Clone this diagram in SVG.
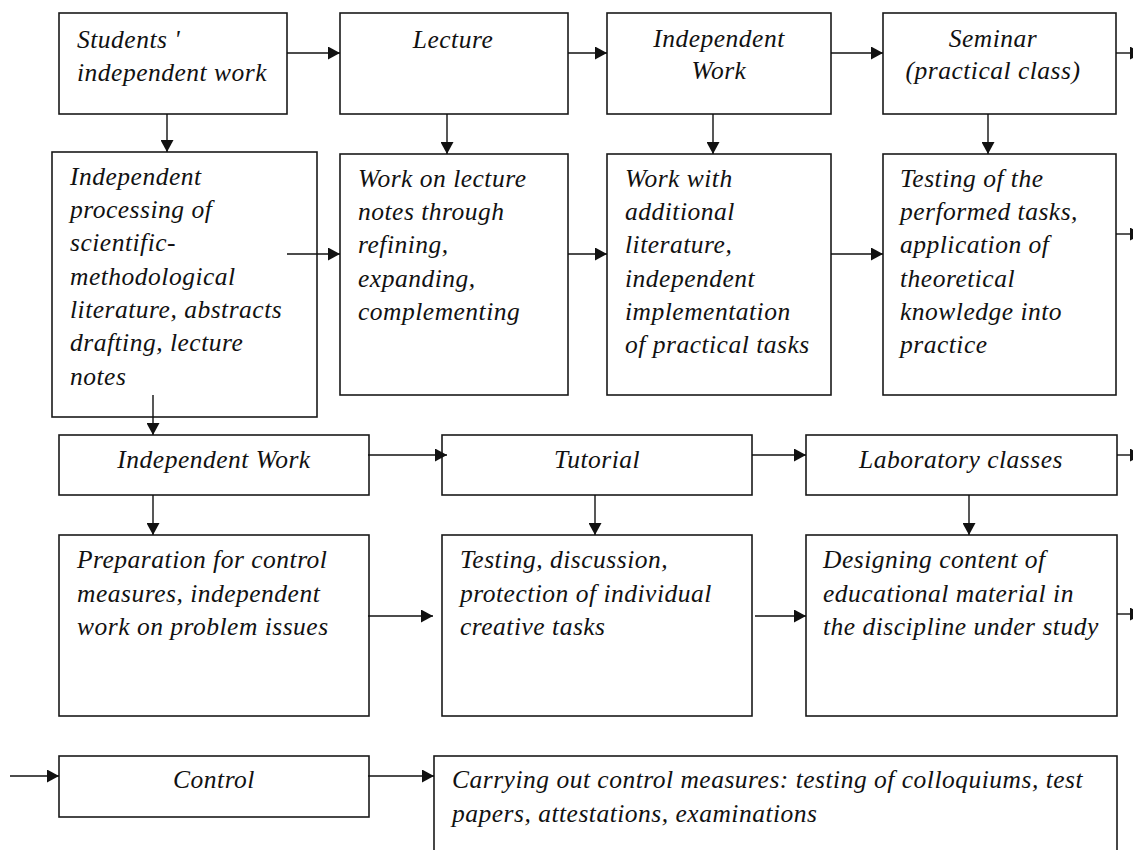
<svg xmlns="http://www.w3.org/2000/svg" width="1133" height="850" viewBox="0 0 1133 850">
<defs>
<style>
.box{fill:#fff;stroke:#1a1a1a;stroke-width:1.6}
.t{font-family:"Liberation Serif","Times New Roman",serif;font-style:italic;font-size:25.5px;letter-spacing:0.5px;fill:#111}
.c{text-anchor:middle}
.ln{stroke:#111;stroke-width:1.4;fill:none;marker-end:url(#ah)}
</style>
<marker id="ah" markerUnits="userSpaceOnUse" markerWidth="13" markerHeight="13" refX="12" refY="6.5" orient="auto">
<path d="M0,0 L12,6.5 L0,13 Z" fill="#111"/>
</marker>
</defs>
<rect width="1133" height="850" fill="#fff"/>
<g id="n1"><rect class="box" x="59" y="13" width="228" height="101"/>
<text class="t" x="77" y="48">Students '</text><text class="t" x="77" y="81">independent work</text></g>
<g id="n2"><rect class="box" x="340" y="13" width="228" height="101"/>
<text class="t c" x="453" y="48">Lecture</text></g>
<g id="n3"><rect class="box" x="607" y="13" width="224" height="101"/>
<text class="t c" x="719" y="47">Independent</text><text class="t c" x="719" y="79">Work</text></g>
<g id="n4"><rect class="box" x="883" y="13" width="233" height="101"/>
<text class="t c" x="993" y="47">Seminar</text><text class="t c" x="993" y="79">(practical class)</text></g>
<g id="m1"><rect class="box" x="52" y="152" width="265" height="265"/>
<text class="t" x="70" y="185">Independent</text>
<text class="t" x="70" y="218">processing of</text>
<text class="t" x="70" y="251">scientific-</text>
<text class="t" x="70" y="285">methodological</text>
<text class="t" x="70" y="318">literature, abstracts</text>
<text class="t" x="70" y="351">drafting, lecture</text>
<text class="t" x="70" y="385">notes</text></g>
<g id="m2"><rect class="box" x="340" y="154" width="228" height="241"/>
<text class="t" x="358" y="187">Work on lecture</text>
<text class="t" x="358" y="220">notes through</text>
<text class="t" x="358" y="253">refining,</text>
<text class="t" x="358" y="287">expanding,</text>
<text class="t" x="358" y="320">complementing</text></g>
<g id="m3"><rect class="box" x="607" y="154" width="224" height="241"/>
<text class="t" x="625" y="187">Work with</text>
<text class="t" x="625" y="220">additional</text>
<text class="t" x="625" y="253">literature,</text>
<text class="t" x="625" y="287">independent</text>
<text class="t" x="625" y="320">implementation</text>
<text class="t" x="625" y="353">of practical tasks</text></g>
<g id="m4"><rect class="box" x="883" y="154" width="233" height="241"/>
<text class="t" x="900" y="187">Testing of the</text>
<text class="t" x="900" y="220">performed tasks,</text>
<text class="t" x="900" y="253">application of</text>
<text class="t" x="900" y="287">theoretical</text>
<text class="t" x="900" y="320">knowledge into</text>
<text class="t" x="900" y="353">practice</text></g>
<g id="iw"><rect class="box" x="59" y="435" width="310" height="60"/>
<text class="t c" x="214" y="468">Independent Work</text></g>
<g id="tut"><rect class="box" x="442" y="435" width="310" height="60"/>
<text class="t c" x="597" y="468">Tutorial</text></g>
<g id="lab"><rect class="box" x="806" y="435" width="311" height="60"/>
<text class="t c" x="961" y="468">Laboratory classes</text></g>
<g id="p1"><rect class="box" x="59" y="535" width="310" height="181"/>
<text class="t" x="77" y="568">Preparation for control</text>
<text class="t" x="77" y="602">measures, independent</text>
<text class="t" x="77" y="635">work on problem issues</text></g>
<g id="p2"><rect class="box" x="442" y="535" width="310" height="181"/>
<text class="t" x="460" y="568">Testing, discussion,</text>
<text class="t" x="460" y="602">protection of individual</text>
<text class="t" x="460" y="635">creative tasks</text></g>
<g id="p3"><rect class="box" x="806" y="535" width="311" height="181"/>
<text class="t" x="823" y="568">Designing content of</text>
<text class="t" x="823" y="602">educational material in</text>
<text class="t" x="823" y="635">the discipline under study</text></g>
<g id="ctrl"><rect class="box" x="59" y="756" width="310" height="61"/>
<text class="t c" x="214" y="788">Control</text></g>
<g id="carry"><rect class="box" x="434" y="756" width="683" height="110"/>
<text class="t" x="452" y="788">Carrying out control measures: testing of colloquiums, test</text>
<text class="t" x="452" y="822">papers, attestations, examinations</text></g>
<g id="connectors">
<line class="ln" x1="287" y1="53" x2="340" y2="53"/>
<line class="ln" x1="568" y1="53" x2="607" y2="53"/>
<line class="ln" x1="831" y1="53" x2="883" y2="53"/>
<line class="ln" x1="1116" y1="53" x2="1142" y2="53"/>
<line class="ln" x1="167" y1="114" x2="167" y2="152"/>
<line class="ln" x1="447" y1="114" x2="447" y2="154"/>
<line class="ln" x1="713" y1="114" x2="713" y2="154"/>
<line class="ln" x1="988" y1="114" x2="988" y2="154"/>
<line class="ln" x1="287" y1="254" x2="340" y2="254"/>
<line class="ln" x1="568" y1="254" x2="607" y2="254"/>
<line class="ln" x1="831" y1="254" x2="883" y2="254"/>
<line class="ln" x1="1116" y1="234" x2="1142" y2="234"/>
<line class="ln" x1="153" y1="395" x2="153" y2="435"/>
<line class="ln" x1="368" y1="455" x2="447" y2="455"/>
<line class="ln" x1="752" y1="455" x2="806" y2="455"/>
<line class="ln" x1="1117" y1="455" x2="1142" y2="455"/>
<line class="ln" x1="153" y1="495" x2="153" y2="535"/>
<line class="ln" x1="595" y1="495" x2="595" y2="535"/>
<line class="ln" x1="969" y1="495" x2="969" y2="535"/>
<line class="ln" x1="368" y1="616" x2="433" y2="616"/>
<line class="ln" x1="755" y1="616" x2="806" y2="616"/>
<line class="ln" x1="1117" y1="614" x2="1142" y2="614"/>
<line class="ln" x1="10" y1="776" x2="59" y2="776"/>
<line class="ln" x1="368" y1="776" x2="434" y2="776"/>
</g>
</svg>
